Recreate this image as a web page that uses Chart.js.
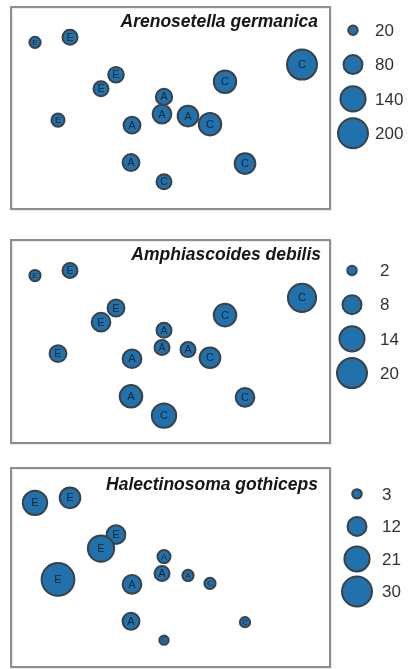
<!DOCTYPE html>
<html>
<head>
<meta charset="utf-8">
<script src="https://cdn.jsdelivr.net/npm/chart.js@4.4.0/dist/chart.umd.min.js"></script>
<style>
  html, body { margin: 0; padding: 0; background: #fff; overflow: hidden; }
  body { width: 410px; height: 669px; position: relative; }
  canvas { position: absolute; left: 0; }
</style>
</head>
<body>
<canvas id="p1"></canvas>
<canvas id="p2"></canvas>
<canvas id="p3"></canvas>
<script>
// sites in the ordination (same layout for the three species)
const siteGroup = ['E', 'E', 'E', 'E', 'E', 'A', 'A', 'A', 'C', 'A', 'A', 'C', 'C', 'C', 'C'];
const siteX = [24, 59, 105, 90, 47, 153, 151, 177, 199, 121, 120, 153, 234, 214, 291];
const siteY = [35, 30, 67, 81, 112, 89, 106, 108, 116, 117, 154, 173, 155, 74, 57];

// abundance of each species per site
const arenosetella = [28, 50, 54, 50, 38, 59, 78, 95, 112, 63, 63, 50, 95, 112, 200];
const amphiascoides = [2.8, 5, 6.3, 7.8, 6.3, 5, 5, 5, 9.5, 7.8, 11.3, 13.2, 7.8, 11.3, 17.6];
const halectinosoma = [19.8, 14.2, 11.7, 23, 35.9, 5.7, 7.5, 4.2, 4.2, 11.7, 9.5, 2.9, 3.5, 0, 0];

// size legend values
const legendArenosetella = [20, 80, 140, 200];
const legendAmphiascoides = [2, 8, 14, 20];
const legendHalectinosoma = [3, 12, 21, 30];

const FILL = '#2071ac';
const EDGE = '#3c4146';
const FONT = '"Liberation Sans", Arial, sans-serif';
const PLOT_W = 319;   // width of the framed plot, in x units

// bubble area proportional to abundance, biggest legend value = 15px
const radius = (v, vmax) => 15 * Math.sqrt(v / vmax);

const panelDeco = {
  id: 'panelDeco',
  beforeDatasetsDraw(chart) {
    const a = chart.chartArea, ctx = chart.ctx;
    const right = chart.scales.x.getPixelForValue(PLOT_W);
    ctx.save();
    ctx.lineWidth = 2;
    ctx.strokeStyle = 'rgba(0,0,0,0.08)';
    ctx.strokeRect(a.left + 1, a.top + 1, right - a.left, a.bottom - a.top);
    ctx.strokeStyle = '#8e8e8e';
    ctx.strokeRect(a.left, a.top, right - a.left, a.bottom - a.top);
    ctx.restore();
  },
  afterDatasetsDraw(chart, args, opts) {
    const ctx = chart.ctx;
    ctx.save();
    ctx.textAlign = 'center';
    ctx.textBaseline = 'middle';
    ctx.fillStyle = '#1a2836';
    const sites = chart.data.datasets[0].data;
    chart.getDatasetMeta(0).data.forEach((pt, i) => {
      const r = pt.options.radius;
      ctx.font = Math.min(11, r * 1.4).toFixed(1) + 'px ' + FONT;
      ctx.fillText(sites[i].g, pt.x, pt.y + 0.5);
    });
    // size legend numbers
    const leg = chart.data.datasets[1].data;
    ctx.textAlign = 'left';
    ctx.fillStyle = '#333';
    ctx.font = '17px ' + FONT;
    chart.getDatasetMeta(1).data.forEach((pt, i) => {
      ctx.fillText(leg[i].v, opts.labelX, pt.y + 1);
    });
    // species name
    const right = chart.scales.x.getPixelForValue(PLOT_W);
    ctx.textAlign = 'right';
    ctx.textBaseline = 'alphabetic';
    ctx.fillStyle = '#161616';
    ctx.font = 'italic bold 17.5px ' + FONT;
    ctx.fillText(opts.title, right - opts.titleInset, chart.chartArea.top + opts.titleY);
    ctx.restore();
  }
};

function makePanel(id, title, values, legendValues, p) {
  const vmax = legendValues[legendValues.length - 1];
  const sites = [];
  for (let i = 0; i < siteX.length; i++) {
    if (values[i] > 0) {
      sites.push({ x: siteX[i], y: siteY[i], r: radius(values[i], vmax), g: siteGroup[i] });
    }
  }
  const legend = legendValues.map((v, i) => ({
    x: p.legendX, y: p.legendTop + i * p.legendStep, r: radius(v, vmax), v: v
  }));

  const canvas = document.getElementById(id);
  canvas.width = 410;
  canvas.height = p.boxH + 16;
  canvas.style.top = (p.boxTop - 8) + 'px';

  new Chart(canvas.getContext('2d'), {
    type: 'bubble',
    data: {
      datasets: [
        { data: sites, backgroundColor: FILL, borderColor: EDGE, borderWidth: 2 },
        { data: legend, backgroundColor: FILL, borderColor: EDGE, borderWidth: 2, clip: false }
      ]
    },
    options: {
      responsive: false,
      animation: false,
      events: [],
      layout: { autoPadding: false, padding: { left: 11, right: 0, top: 8, bottom: 8 } },
      scales: {
        x: { display: false, min: 0, max: 399 },
        y: { display: false, min: 0, max: 200, reverse: true }
      },
      plugins: {
        legend: { display: false },
        tooltip: { enabled: false },
        panelDeco: { title: title, labelX: p.labelX, titleInset: p.titleInset, titleY: p.titleY }
      }
    },
    plugins: [panelDeco]
  });
}

makePanel('p1', 'Arenosetella germanica', arenosetella, legendArenosetella,
  { boxTop: 7, boxH: 202, legendX: 342, legendTop: 23, legendStep: 34, labelX: 375, titleInset: 12, titleY: 20 });
makePanel('p2', 'Amphiascoides debilis', amphiascoides, legendAmphiascoides,
  { boxTop: 240, boxH: 203, legendX: 341, legendTop: 30, legendStep: 33.7, labelX: 380, titleInset: 9, titleY: 20 });
makePanel('p3', 'Halectinosoma gothiceps', halectinosoma, legendHalectinosoma,
  { boxTop: 468, boxH: 199, legendX: 346, legendTop: 26, legendStep: 32.7, labelX: 382, titleInset: 12, titleY: 22 });
</script>
</body>
</html>
